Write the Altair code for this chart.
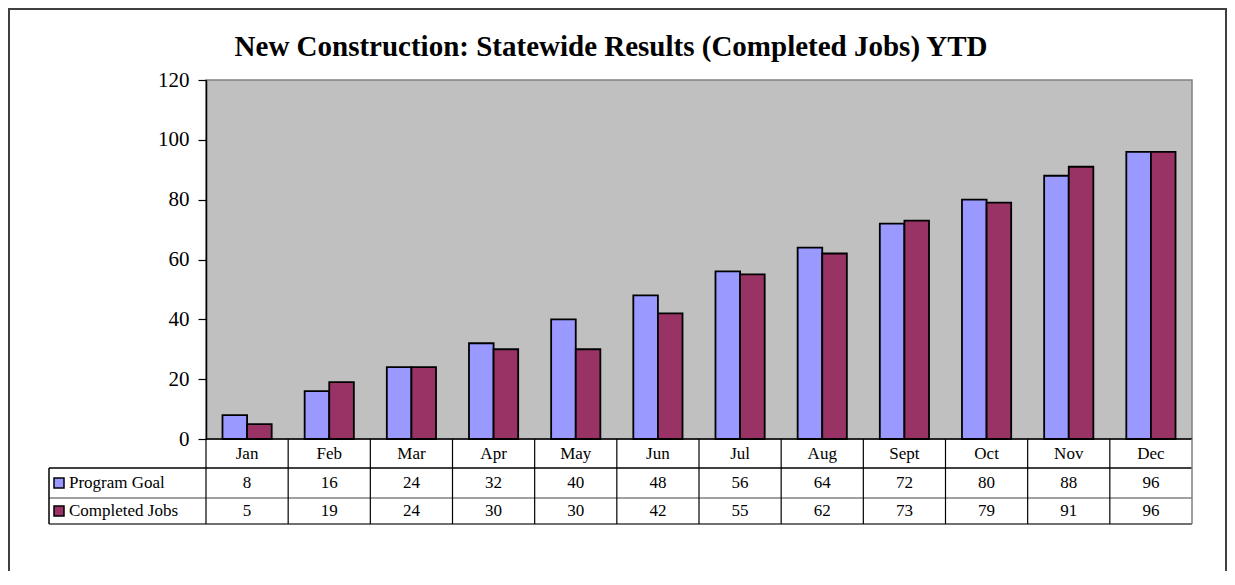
import altair as alt
import pandas as pd

months = ["Jan", "Feb", "Mar", "Apr", "May", "Jun", "Jul", "Aug", "Sept", "Oct", "Nov", "Dec"]
goal = [8, 16, 24, 32, 40, 48, 56, 64, 72, 80, 88, 96]
completed = [5, 19, 24, 30, 30, 42, 55, 62, 73, 79, 91, 96]
series_names = ["Program Goal", "Completed Jobs"]
series_colors = ["#9999FF", "#993366"]
series_values = [goal, completed]
title_text = "New Construction: Statewide Results (Completed Jobs) YTD"
y_ticks = [0, 20, 40, 60, 80, 100, 120]

FONT = "Liberation Serif"
W, H = 986, 359
ROW1_Y, ROW2_Y, ROW3_Y = 388, 418, 444
LEFT_X = -157
TABLE_FS = 17

long = pd.DataFrame(
    [{"month": m, "series": s, "value": v}
     for s, vals in zip(series_names, series_values)
     for m, v in zip(months, vals)]
)
one = pd.DataFrame({"k": [0]})
mdf = pd.DataFrame({"month": months})

xscale = alt.Scale(domain=months, paddingInner=0, paddingOuter=0)

border = alt.Chart(one).mark_rect(fillOpacity=0, stroke="#404040", strokeWidth=2).encode(
    x=alt.value(-197), x2=alt.value(1020), y=alt.value(-71), y2=alt.value(640)
)

title = alt.Chart(one).mark_text(
    font=FONT, fontSize=29, fontWeight="bold", baseline="middle", align="center", color="black"
).encode(x=alt.value(405), y=alt.value(-33), text=alt.value(title_text))

bars = alt.Chart(long).mark_bar(stroke="black", strokeWidth=1.8).encode(
    x=alt.X("month:N", scale=xscale, axis=None),
    xOffset=alt.XOffset("series:N", scale=alt.Scale(domain=series_names, paddingInner=0, paddingOuter=0.67)),
    y=alt.Y(
        "value:Q",
        scale=alt.Scale(domain=[0, 120], nice=False),
        axis=alt.Axis(
            values=y_ticks, title=None, grid=False, tickSize=8, tickColor="black",
            domainColor="black", domainWidth=1.5, tickWidth=1.2, labelFont=FONT,
            labelFontSize=21, labelColor="black", labelPadding=9,
        ),
    ),
    color=alt.Color("series:N", scale=alt.Scale(domain=series_names, range=series_colors), legend=None),
)


def hrule(y, x1, x2, color):
    return alt.Chart(one).mark_rule(color=color, strokeWidth=1.5).encode(
        x=alt.value(x1), x2=alt.value(x2), y=alt.value(y)
    )


def vrule(x, y1, y2, color):
    return alt.Chart(one).mark_rule(color=color, strokeWidth=1.5).encode(
        x=alt.value(x), y=alt.value(y1), y2=alt.value(y2)
    )


month_lines = alt.Chart(mdf).mark_rule(color="black", strokeWidth=1.2).encode(
    x=alt.X("month:N", scale=xscale, bandPosition=0), y=alt.value(H), y2=alt.value(ROW3_Y)
)

month_text = alt.Chart(mdf).mark_text(font=FONT, fontSize=TABLE_FS, baseline="middle", color="black").encode(
    x=alt.X("month:N", scale=xscale), y=alt.value((H + ROW1_Y) / 2), text="month:N"
)

layers = [border, bars, title,
          hrule(H, 0, W, "black"),
          hrule(ROW1_Y, LEFT_X, W, "black"),
          hrule(ROW2_Y, LEFT_X, W, "#808080"),
          hrule(ROW3_Y, LEFT_X, W, "#404040"),
          vrule(LEFT_X, ROW1_Y, ROW3_Y, "black"),
          vrule(W, H, ROW3_Y, "#808080"),
          month_lines, month_text]

row_centers = [(ROW1_Y + ROW2_Y) / 2, (ROW2_Y + ROW3_Y) / 2]
for name, color, vals, yc in zip(series_names, series_colors, series_values, row_centers):
    sdf = pd.DataFrame({"month": months, "value": vals})
    layers.append(
        alt.Chart(sdf).mark_text(font=FONT, fontSize=TABLE_FS, baseline="middle", color="black").encode(
            x=alt.X("month:N", scale=xscale), y=alt.value(yc), text="value:Q"
        )
    )
    ldf = pd.DataFrame({"series": [name]})
    layers.append(
        alt.Chart(ldf).mark_square(size=100, opacity=1, fill=color, stroke="black", strokeWidth=1.5).encode(
            x=alt.value(-147), y=alt.value(yc)
        )
    )
    layers.append(
        alt.Chart(ldf).mark_text(font=FONT, fontSize=TABLE_FS, baseline="middle", align="left", color="black").encode(
            x=alt.value(-137), y=alt.value(yc), text="series:N"
        )
    )

chart = alt.layer(*layers).properties(
    width=W, height=H,
    padding={"left": 198, "top": 72, "right": 35, "bottom": 132},
    autosize=alt.AutoSizeParams(type="none"),
).configure_view(fill="#C0C0C0", stroke="#808080", strokeWidth=1.5)

chart.save("out.html", embed_options={"renderer": "svg", "actions": False})
